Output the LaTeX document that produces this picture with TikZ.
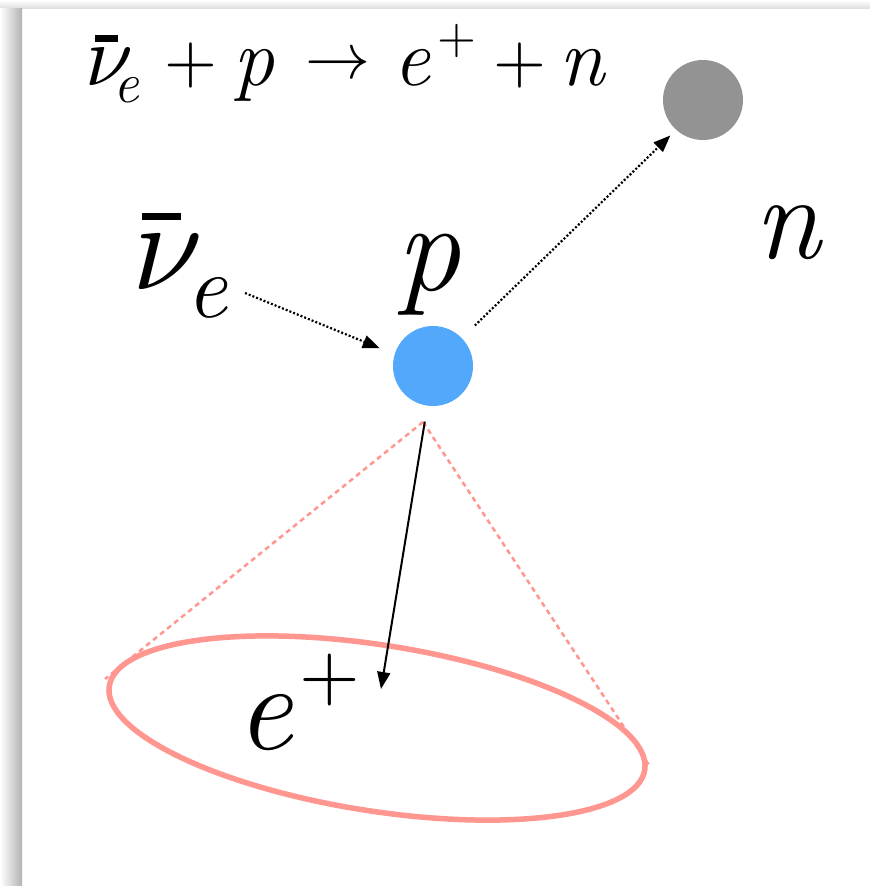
\documentclass[tikz,border=0pt]{standalone}
\usepackage{graphicx}
\usepackage{fontspec}
\usetikzlibrary{arrows.meta}
\definecolor{protonblue}{RGB}{82,168,250}
\definecolor{neutrongray}{RGB}{147,147,147}
\definecolor{conepink}{RGB}{255,150,143}
\newcommand\piece[3]{\rlap{\hspace*{#1pt}\raisebox{#2pt}{#3}}}
\newcommand\fsz[1]{\fontsize{#1pt}{#1pt}\selectfont}
\newcommand\bignu[1]{\scalebox{#1}{\normalsize$\nu$}}
\newcommand\bigplus[1]{\scalebox{#1}{\normalsize$+$}}
\begin{document}
\begin{tikzpicture}[x=1pt,y=-1pt,
  lbl/.style={inner sep=0pt, anchor=base west, font=\itshape},
  particle/.style={circle, minimum size=80pt, inner sep=0pt, draw=none},
  tip/.style={-{Triangle[length=17pt,width=13pt]}},
  dotarrow/.style={tip, line width=2.2pt, dash pattern=on 2pt off 2pt},
  solidarrow/.style={tip, line width=2pt},
  conedash/.style={conepink, line width=2.5pt, dash pattern=on 5pt off 4pt},
  ring/.style={conepink, line width=5.5pt}]
\useasboundingbox (0,0) rectangle (870,886);
\fill[white] (0,0) rectangle (870,886);
\shade[top color=white, bottom color=black!12] (0,0) rectangle (870,8);
\shade[left color=white, right color=black!30] (0,8) rectangle (22,886);

% equation
\node[lbl, font=\itshape\fsz{82}] (eq) at (85,85) {%
  \piece{0}{0}{\bignu{8.6}}%
  \piece{10}{43}{\rule{23pt}{7pt}}%
  \piece{28}{-17.5}{\fsz{57}e}%
  \piece{79}{2}{\bigplus{6.8}}%
  \piece{148}{0}{p}%
  \piece{220}{6}{\normalsize\scalebox{6.5}{$\rightarrow$}}%
  \piece{308}{0}{e}%
  \piece{352}{32}{\bigplus{5}}%
  \piece{408}{2}{\bigplus{6.8}}%
  \piece{474}{0}{n}%
  \hspace*{520pt}};

% particles
\node[particle, fill=protonblue] (p) at (433,366) {};
\node[particle, fill=neutrongray] (n) at (703,100) {};

% labels
\node[lbl, font=\itshape\fsz{125}] (nulbl) at (132,289) {%
  \piece{0}{0}{\bignu{12.7}}%
  \piece{10}{69}{\rule{39pt}{7pt}}%
  \piece{54.5}{-28}{\fsz{91}e}%
  \hspace*{92pt}};
\node[lbl, font=\itshape\fsz{128}] (plbl) at (396,290) {p};
\node[lbl, font=\itshape\fsz{120}] (nlbl) at (754,258) {n};
\node[lbl, font=\itshape\fsz{125}] (elbl) at (236,749) {%
  \piece{63}{49.5}{\bigplus{7.8}}e\hspace*{115pt}};

% coordinates
\coordinate (nustart) at (245,293);
\coordinate (apex) at (423,422);
\coordinate (etip) at (381,689);
\coordinate (coneL) at (105,679);
\coordinate (coneR) at (649,765);

% cone
\draw[conedash] (apex) -- (coneL);
\draw[conedash] (apex) -- (coneR);
\draw[ring, rotate around={-8.9:(377,728)}] (377,728) ellipse [x radius=271, y radius=83];

% arrows
\draw[dotarrow, shorten >=16pt] (nustart) -- (p.163);
\draw[dotarrow, shorten <=18pt, shorten >=8pt] (p.44) -- (n.228);
\draw[solidarrow, shorten <=16pt] (p.262) -- (etip);
\end{tikzpicture}
\end{document}
